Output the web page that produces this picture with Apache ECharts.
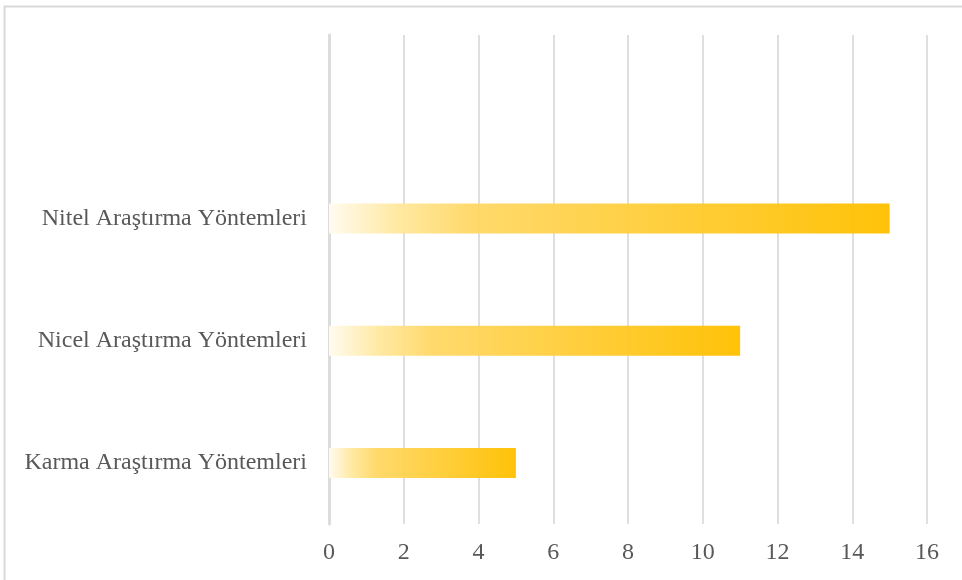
<!DOCTYPE html>
<html>
<head>
<meta charset="utf-8">
<script src="https://cdn.jsdelivr.net/npm/echarts@6/dist/echarts.min.js"></script>
<style>
  html, body { margin: 0; padding: 0; background: #fff; }
  #chart { width: 962px; height: 580px; }
</style>
</head>
<body>
<div id="chart"></div>
<script>
// Categories from bottom to top; the top slot is an empty category
const categories = ['Karma Araştırma Yöntemleri', 'Nicel Araştırma Yöntemleri', 'Nitel Araştırma Yöntemleri', ''];
const counts = [5, 11, 15, null];
const xTicks = { min: 0, max: 16, step: 2 };

const chart = echarts.init(document.getElementById('chart'));
const fontFamily = '"Liberation Serif", "Times New Roman", serif';

chart.setOption({
  animation: false,
  graphic: [{
    type: 'rect',
    shape: { x: 4.5, y: 6.5, width: 1000, height: 1000 },
    style: { fill: 'none', stroke: '#D9D9D9', lineWidth: 2 },
    silent: true
  }],
  grid: { left: 329, right: 35, top: 35, bottom: 56, containLabel: false },
  xAxis: {
    type: 'value',
    min: xTicks.min,
    max: xTicks.max,
    interval: xTicks.step,
    axisLine: { show: false },
    axisTick: { show: false },
    splitLine: { show: true, lineStyle: { color: '#D4D4D4', width: 1.5 } },
    axisLabel: { color: '#595959', fontFamily, fontSize: 24, margin: 17 }
  },
  yAxis: {
    type: 'category',
    data: categories,
    axisLine: { show: true, lineStyle: { color: '#DCDCDC', width: 3 } },
    axisTick: { show: false },
    axisLabel: { color: '#595959', fontFamily, fontSize: 24, margin: 22 }
  },
  series: [{
    type: 'bar',
    data: counts,
    barWidth: 30,
    itemStyle: {
      color: new echarts.graphic.LinearGradient(0, 0, 1, 0, [
        { offset: 0, color: '#FFFBEF' },
        { offset: 0.12, color: '#FFE8A0' },
        { offset: 0.25, color: '#FFD868' },
        { offset: 1, color: '#FFC000' }
      ]),
      opacity: 0.97
    }
  }]
});
</script>
</body>
</html>
